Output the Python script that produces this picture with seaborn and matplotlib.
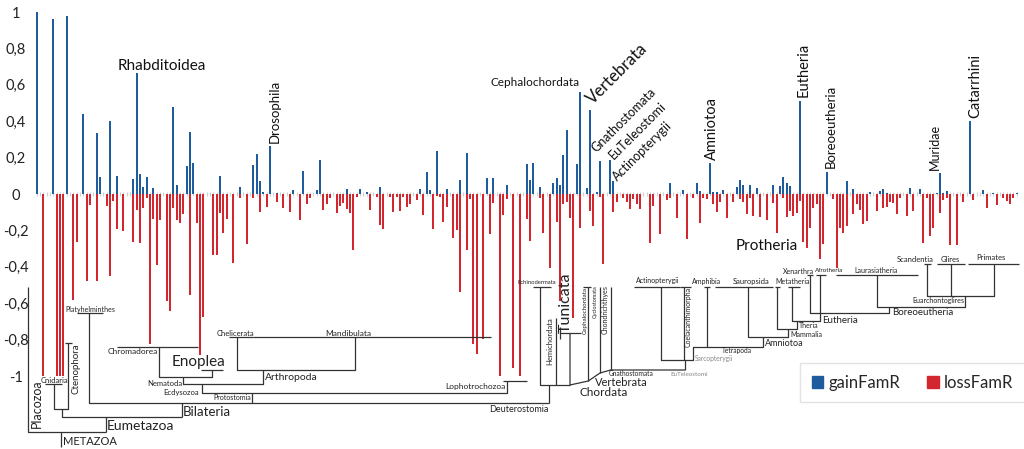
import numpy as np
import pandas as pd
import matplotlib
matplotlib.use('Agg')
import matplotlib.pyplot as plt
from matplotlib.patches import Patch
import seaborn as sns

# node-wise gain / loss rates along the tree traversal
n_nodes = 295
gain_nodes = [0, 5, 9, 14, 18, 19, 22, 24, 29, 30, 31, 32, 33, 35, 41, 42, 45, 46, 47,
              55, 61, 65, 66, 67, 68, 70, 72, 77, 80, 84, 85, 93, 97, 99, 103, 115, 117,
              118, 120, 123, 127, 129, 135, 137, 141, 147, 148, 149, 151, 155, 156, 157,
              158, 159, 162, 163, 165, 166, 168, 169, 172, 173, 190, 194, 198, 199, 202,
              203, 204, 206, 210, 211, 212, 214, 216, 221, 223, 224, 225, 226, 229, 237,
              243, 245, 250, 253, 254, 255, 262, 265, 270, 271, 272, 273, 280, 284, 287, 294]
gain_vals = [1.0, 0.96, 0.976, 0.44, 0.333, 0.095, 0.40, 0.10, 0.084, 0.667, 0.11, 0.04,
             0.093, 0.033, 0.476, 0.05, 0.152, 0.342, 0.169, 0.10, 0.04, 0.16, 0.22, 0.07,
             0.013, 0.262, 0.007, 0.02, 0.128, 0.02, 0.187, 0.028, 0.025, 0.01, 0.04, 0.03,
             0.12, 0.02, 0.236, 0.025, 0.077, 0.224, 0.09, 0.086, 0.048, 0.167, 0.077, 0.17,
             0.04, 0.062, 0.088, 0.048, 0.214, 0.35, 0.163, 0.559, 0.031, 0.463, 0.013,
             0.183, 0.185, 0.071, 0.059, 0.022, 0.062, 0.016, 0.169, 0.01, 0.01, 0.02,
             0.038, 0.079, 0.05, 0.048, 0.035, 0.05, 0.046, 0.092, 0.062, 0.042, 0.511,
             0.121, 0.073, 0.027, 0.009, 0.018, 0.029, 0.005, 0.031, 0.026, 0.005, 0.114,
             0.005, 0.015, 0.40, 0.02, 0.006, 0.004]
loss_nodes = [2, 6, 7, 8, 11, 12, 15, 16, 18, 21, 22, 23, 24, 26, 29, 30, 31, 32, 33, 34,
              35, 36, 37, 39, 40, 41, 42, 43, 44, 46, 48, 49, 50, 53, 54, 55, 56, 57, 59,
              61, 63, 65, 67, 69, 72, 74, 76, 79, 81, 82, 86, 87, 88, 90, 91, 92, 93, 94,
              95, 96, 100, 102, 103, 104, 106, 107, 108, 109, 110, 111, 112, 114, 116, 119,
              120, 121, 122, 123, 125, 126, 127, 129, 130, 131, 132, 134, 136, 137, 139,
              140, 141, 143, 145, 147, 148, 151, 152, 154, 156, 157, 158, 159, 160, 161,
              163, 166, 167, 169, 170, 173, 174, 176, 177, 178, 179, 180, 181, 184, 185,
              187, 189, 190, 192, 195, 197, 199, 200, 201, 203, 204, 205, 207, 209, 211,
              212, 213, 214, 215, 217, 219, 221, 222, 224, 225, 226, 227, 228, 229, 230,
              231, 232, 233, 234, 235, 236, 239, 240, 241, 242, 243, 245, 246, 247, 248,
              249, 252, 254, 255, 256, 257, 258, 259, 261, 263, 266, 267, 268, 269, 271,
              272, 273, 274, 276, 278, 281, 285, 288, 290, 291, 292, 293]
loss_vals = [-1.0, -1.0, -1.0, -1.0, -0.58, -0.265, -0.478, -0.06, -0.478, -0.064, -0.45,
             -0.04, -0.19, -0.205, -0.265, -0.09, -0.27, -0.075, -0.02, -0.825, -0.14,
             -0.39, -0.145, -0.59, -0.645, -0.075, -0.145, -0.16, -0.11, -0.555, -0.16,
             -0.885, -0.675, -0.335, -0.335, -0.105, -0.215, -0.137, -0.38, -0.02, -0.275,
             -0.02, -0.1, -0.073, -0.045, -0.078, -0.1, -0.143, -0.055, -0.02, -0.088,
             -0.055, -0.02, -0.105, -0.066, -0.048, -0.084, -0.105, -0.31, -0.018, -0.088,
             -0.018, -0.17, -0.19, -0.018, -0.097, -0.018, -0.092, -0.018, -0.073, -0.055,
             -0.033, -0.115, -0.19, -0.01, -0.015, -0.155, -0.073, -0.24, -0.198, -0.537,
             -0.307, -0.027, -0.826, -0.88, -0.797, -0.22, -0.048, -1.0, -0.118, -0.027,
             -0.955, -1.0, -0.137, -0.258, -0.024, -0.216, -0.408, -0.152, -0.59, -0.057,
             -0.042, -0.134, -0.683, -0.185, -0.093, -0.176, -0.016, -0.385, -0.1, -0.042,
             -0.024, -0.042, -0.082, -0.029, -0.057, -0.084, -0.267, -0.066, -0.222,
             -0.033, -0.02, -0.134, -0.249, -0.02, -0.16, -0.02, -0.029, -0.057, -0.1,
             -0.046, -0.134, -0.042, -0.029, -0.042, -0.11, -0.02, -0.121, -0.128, -0.143,
             -0.051, -0.216, -0.02, -0.128, -0.093, -0.119, -0.106, -0.038, -0.262, -0.298,
             -0.185, -0.079, -0.057, -0.359, -0.276, -0.029, -0.405, -0.185, -0.213,
             -0.176, -0.112, -0.057, -0.088, -0.163, -0.148, -0.093, -0.079, -0.071,
             -0.046, -0.048, -0.112, -0.024, -0.119, -0.093, -0.27, -0.02, -0.231, -0.188,
             -0.106, -0.033, -0.02, -0.28, -0.28, -0.042, -0.033, -0.079, -0.06, -0.02,
             -0.038, -0.055, -0.024]
ytick_vals = [1, 0.8, 0.6, 0.4, 0.2, 0, -0.2, -0.4, -0.6, -0.8, -1]
ytick_text = ['1', '0,8', '0,6', '0,4', '0,2', '0', '-0,2', '-0,4', '-0,6', '-0,8', '-1']

# clade names written next to the big bars: (text, node, value, size, rotation, ha)
bar_labels = [
    ('Rhabditoidea', 24.4, 0.681, 11, 0, 'left'),
    ('Drosophila', 71.3, 0.28, 9.5, 90, 'center'),
    ('Cephalochordata', 162.9, 0.593, 8.5, 0, 'right'),
    ('Vertebrata', 166.8, 0.489, 12, 45, 'left'),
    ('Gnathostomata', 168.0, 0.224, 9, 45, 'left'),
    ('EuTeleostomi', 173.3, 0.187, 9, 45, 'left'),
    ('Actinopterygii', 174.3, 0.07, 9, 45, 'left'),
    ('Amniotoa', 202.7, 0.187, 10.5, 90, 'center'),
    ('Eutheria', 230.2, 0.533, 10.5, 90, 'center'),
    ('Boreoeutheria', 238.3, 0.143, 9.5, 90, 'center'),
    ('Muridae', 269.5, 0.132, 9, 90, 'center'),
    ('Catarrhini', 281.5, 0.418, 10.5, 90, 'center'),
]

# species tree drawn under the bars (figure pixel space)
tree_paths = [
    [(28.3, 287), (28.3, 432), (106, 432)],
    [(45, 384), (62, 384)],
    [(54, 384), (54, 409), (68.3, 409), (68.3, 343)],
    [(65, 343), (71.5, 343)],
    [(61.7, 409), (61.7, 417), (181.7, 417)],
    [(106, 417), (106, 432)],
    [(61, 432), (61, 447)],
    [(77, 313), (103, 313)],
    [(89.3, 313), (89.3, 403), (549.3, 403)],
    [(181.7, 403), (181.7, 417)],
    [(549.3, 385), (549.3, 403)],
    [(201.7, 384), (201.7, 393), (507.3, 393), (507.3, 381)],
    [(503, 381), (527, 381)],
    [(251.7, 393), (251.7, 403)],
    [(183.3, 377), (183.3, 384), (263.3, 384), (263.3, 370)],
    [(159.3, 347), (159.3, 377), (212.3, 377), (212.3, 370)],
    [(117, 347), (198, 347)],
    [(201, 370), (223, 370)],
    [(229, 337), (253, 337)],
    [(237.3, 337), (237.3, 370), (355, 370), (355, 337)],
    [(253, 337), (491, 337)],
    [(533, 287), (551, 287)],
    [(540, 287), (540, 385), (570, 385)],
    [(556, 318), (556, 385)],
    [(560, 327), (560, 339)],
    [(560, 333), (581, 333)],
    [(570, 333), (570, 385), (588.3, 381), (600, 373), (610.7, 370), (685, 370)],
    [(583, 287), (591, 287)],
    [(588.3, 287), (588.3, 381)],
    [(600, 287), (600, 373)],
    [(610.7, 287), (610.7, 370)],
    [(634, 287), (680, 287)],
    [(661, 287), (661, 360), (693.3, 360), (693.3, 347), (762.7, 347), (762.7, 337)],
    [(685, 360), (685, 370)],
    [(680, 287), (691, 287)],
    [(684, 287), (684, 360)],
    [(704, 287), (709.5, 287)],
    [(706.7, 287), (706.7, 347)],
    [(715, 287), (773, 287)],
    [(748.3, 287), (748.3, 337), (788.3, 337), (788.3, 329)],
    [(775, 287), (780, 287)],
    [(777.3, 287), (777.3, 329), (797, 329), (797, 321)],
    [(788, 287), (800, 287)],
    [(792, 287), (792, 321), (820, 321), (820, 275)],
    [(807, 275), (813, 275)],
    [(816, 275), (826, 275)],
    [(810, 275), (810, 313), (889.3, 313), (889.3, 307)],
    [(836, 275), (918, 275)],
    [(876.7, 275), (876.7, 307), (965, 307), (965, 296)],
    [(927.3, 264), (927.3, 296), (994, 296), (994, 264)],
    [(924, 264), (931, 264)],
    [(950.7, 264), (950.7, 296)],
    [(937, 264), (965, 264)],
    [(968, 264), (1019, 264)],
]
# (text, x, y, size, ha, rotation, colour)
tree_labels = [
    ('Placozoa', 37, 404, 9, 'center', 90, '#222222'),
    ('Cnidaria', 54.5, 380.5, 5.5, 'center', 0, '#222222'),
    ('Ctenophora', 76, 369, 7, 'center', 90, '#222222'),
    ('Platyhelminthes', 90, 309.5, 5, 'center', 0, '#222222'),
    ('Eumetazoa', 107, 426, 10, 'left', 0, '#222222'),
    ('METAZOA', 63, 441.5, 8, 'left', 0, '#222222'),
    ('Bilateria', 183, 411.5, 9.5, 'left', 0, '#222222'),
    ('Chromadorea', 158, 351, 6, 'right', 0, '#222222'),
    ('Enoplea', 172, 362, 11, 'left', 0, '#222222'),
    ('Nematoda', 182, 384, 5.5, 'right', 0, '#222222'),
    ('Ecdysozoa', 199, 392, 5.5, 'right', 0, '#222222'),
    ('Protostomia', 251, 398, 5, 'right', 0, '#222222'),
    ('Arthropoda', 265, 378, 7.5, 'left', 0, '#222222'),
    ('Chelicerata', 235, 334, 5.5, 'center', 0, '#222222'),
    ('Mandibulata', 348, 333, 6, 'center', 0, '#222222'),
    ('Lophotrochozoa', 505, 386.5, 6, 'right', 0, '#222222'),
    ('Deuterostomia', 549, 409.5, 6.5, 'right', 0, '#222222'),
    ('Echinodermata', 536.5, 282, 4.2, 'center', 0, '#222222'),
    ('Hemichordata', 550, 341.5, 5.5, 'center', 90, '#222222'),
    ('Tunicata', 566, 302.5, 11.5, 'center', 90, '#222222'),
    ('Cephalochordata', 585, 310, 4.5, 'center', 90, '#222222'),
    ('Cyclostomata', 595, 302, 4, 'center', 90, '#222222'),
    ('Chondrichthyes', 605.5, 310, 5, 'center', 90, '#222222'),
    ('Gnathostomata', 609, 373.5, 4.8, 'left', 0, '#222222'),
    ('Vertebrata', 595, 382, 8, 'left', 0, '#222222'),
    ('Chordata', 579, 393, 8.5, 'left', 0, '#222222'),
    ('Actinopterygii', 658, 280.5, 5, 'center', 0, '#222222'),
    ('EuTeleostomi', 670, 374.5, 4.5, 'left', 0, '#888888'),
    ('Coelacanthimorpha', 688.5, 317, 5, 'center', 90, '#222222'),
    ('Sarcopterygii', 695, 358.5, 4.8, 'left', 0, '#888888'),
    ('Amphibia', 707, 281.5, 5, 'center', 0, '#222222'),
    ('Tetrapoda', 722, 351, 4.8, 'left', 0, '#222222'),
    ('Sauropsida', 751, 281.5, 5.5, 'center', 0, '#222222'),
    ('Amniotoa', 765, 343.5, 6.5, 'left', 0, '#222222'),
    ('Metatheria', 792.5, 281.5, 5, 'center', 0, '#222222'),
    ('Mammalia', 790, 334.5, 5, 'left', 0, '#222222'),
    ('Theria', 799, 325.5, 5, 'left', 0, '#222222'),
    ('Eutheria', 822, 320.5, 7, 'left', 0, '#222222'),
    ('Xenarthra', 798.5, 271, 5, 'center', 0, '#222222'),
    ('Afrotheria', 829, 271, 4.5, 'center', 0, '#222222'),
    ('Laurasiatheria', 876, 270.5, 5, 'center', 0, '#222222'),
    ('Boreoeutheria', 892, 312.5, 7, 'left', 0, '#222222'),
    ('Euarchontoglires', 938, 301, 5, 'center', 0, '#222222'),
    ('Scandentia', 915, 260, 5.5, 'center', 0, '#222222'),
    ('Glires', 950.5, 260, 5.5, 'center', 0, '#222222'),
    ('Primates', 991, 257.5, 5.5, 'center', 0, '#222222'),
]

gain = np.zeros(n_nodes)
gain[gain_nodes] = gain_vals
loss = np.zeros(n_nodes)
loss[loss_nodes] = loss_vals
df = pd.DataFrame({'node': np.arange(n_nodes), 'gainFamR': gain, 'lossFamR': loss})

c_gain = '#1f5c9e'
c_loss = '#d4262e'

sns.set_style('white')
plt.rcParams['font.family'] = ['Lato', 'DejaVu Sans']

fig = plt.figure(figsize=(10.24, 4.49), dpi=100)
ax = fig.add_axes([30 / 1024, 0, 994 / 1024, 1])
sns.barplot(data=df, x='node', y='gainFamR', color=c_gain, saturation=1,
            width=0.6, errorbar=None, linewidth=0, ax=ax)
sns.barplot(data=df, x='node', y='lossFamR', color=c_loss, saturation=1,
            width=0.6, errorbar=None, linewidth=0, ax=ax)

ax.set_xlim(-2.01, 296.19)
ax.set_ylim(-1.401, 1.066)
ax.set_xlabel('')
ax.set_ylabel('')
ax.set_axisbelow(True)
for s in ['top', 'right', 'left']:
    ax.spines[s].set_visible(False)
ax.spines['bottom'].set_position(('data', 0))
ax.spines['bottom'].set_color('none')
ax.set_xticks(range(n_nodes))
ax.set_xticklabels([])
ax.tick_params(axis='x', bottom=True, length=3, direction='inout', color='#d0d0d0', width=0.8)
ax.set_yticks(ytick_vals)
ax.set_yticklabels(ytick_text, ha='center')
ax.tick_params(axis='y', left=False, length=0, pad=10, labelsize=10.5, labelcolor='#222222')

for txt, xn, yv, fs, rot, ha in bar_labels:
    if rot == 45:
        ax.text(xn, yv, txt, fontsize=fs, rotation=45, rotation_mode='anchor',
                ha='left', va='baseline', color='#111111')
    elif rot == 90:
        ax.text(xn, yv, txt, fontsize=fs, rotation=90, ha=ha, va='bottom', color='#111111')
    else:
        ax.text(xn, yv, txt, fontsize=fs, ha=ha, va='baseline', color='#111111')
ax.text(218.9, -0.286, 'Protheria', fontsize=11, ha='center', va='center', color='#111111')

# tree overlay
tx = fig.add_axes([0, 0, 1, 1], facecolor='none')
tx.set_xlim(0, 1024)
tx.set_ylim(449, 0)
tx.axis('off')
for path in tree_paths:
    xs, ys = zip(*path)
    tx.plot(xs, ys, color='#333333', lw=0.9, solid_capstyle='butt')
for txt, x, y, fs, ha, rot, col in tree_labels:
    tx.text(x, y, txt, fontsize=fs, ha=ha, va='center', rotation=rot, color=col)

handles = [Patch(color=c_gain, label='gainFamR'), Patch(color=c_loss, label='lossFamR')]
fig.legend(handles=handles, loc='center', bbox_to_anchor=(0.891, 0.148), ncol=2,
           frameon=True, fancybox=False, edgecolor='#dddddd', fontsize=12,
           handlelength=0.7, handleheight=0.7, handletextpad=0.3, columnspacing=1.6,
           borderpad=0.7)

fig.savefig('out.png', dpi=100)
plt.close(fig)
